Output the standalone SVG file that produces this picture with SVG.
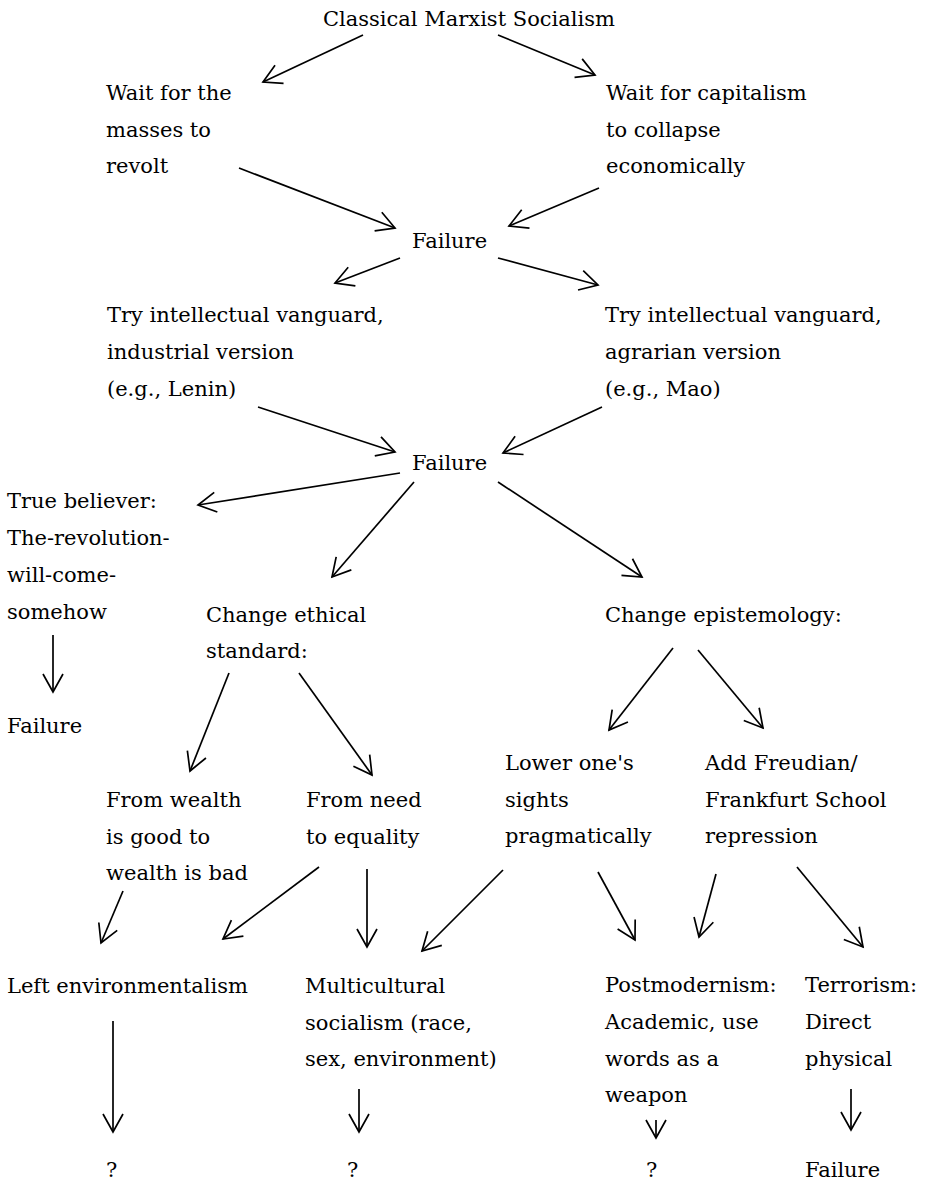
<svg xmlns="http://www.w3.org/2000/svg" width="928" height="1183" viewBox="0 0 928 1183">
<style>
text{font-family:"DejaVu Serif","Liberation Serif",serif;font-size:21px;fill:#000}
.c line{stroke:#000;stroke-width:1.7;fill:none;marker-end:url(#ah)}
</style>
<defs>
<marker id="ah" markerUnits="userSpaceOnUse" orient="auto" refX="0" refY="0" overflow="visible">
<path d="M-18,-10 L0,0 L-18,10" fill="none" stroke="#000" stroke-width="1.7"/>
</marker>
</defs>
<rect width="928" height="1183" fill="#fff"/>
<g id="n-classical"><text x="323" y="26">Classical Marxist Socialism</text></g>
<g id="n-masses"><text x="106" y="100">Wait for the</text><text x="106" y="136.5">masses to</text><text x="106" y="173">revolt</text></g>
<g id="n-capitalism"><text x="606" y="100">Wait for capitalism</text><text x="606" y="136.5">to collapse</text><text x="606" y="173">economically</text></g>
<g id="n-failure1"><text x="412" y="248">Failure</text></g>
<g id="n-lenin"><text x="107" y="322">Try intellectual vanguard,</text><text x="107" y="359">industrial version</text><text x="107" y="396">(e.g., Lenin)</text></g>
<g id="n-mao"><text x="605" y="322">Try intellectual vanguard,</text><text x="605" y="359">agrarian version</text><text x="605" y="396">(e.g., Mao)</text></g>
<g id="n-failure2"><text x="412" y="470">Failure</text></g>
<g id="n-truebeliever"><text x="7" y="508">True believer:</text><text x="7" y="545">The-revolution-</text><text x="7" y="582">will-come-</text><text x="7" y="619">somehow</text></g>
<g id="n-failure3"><text x="7" y="733">Failure</text></g>
<g id="n-ethical"><text x="206" y="622">Change ethical</text><text x="206" y="658">standard:</text></g>
<g id="n-epistemology"><text x="605" y="622">Change epistemology:</text></g>
<g id="n-wealth"><text x="106" y="807">From wealth</text><text x="106" y="843.5">is good to</text><text x="106" y="880">wealth is bad</text></g>
<g id="n-need"><text x="306" y="807">From need</text><text x="306" y="843.5">to equality</text></g>
<g id="n-lower"><text x="505" y="770">Lower one's</text><text x="505" y="806.5">sights</text><text x="505" y="843">pragmatically</text></g>
<g id="n-freudian"><text x="705" y="770">Add Freudian/</text><text x="705" y="806.5">Frankfurt School</text><text x="705" y="843">repression</text></g>
<g id="n-leftenv"><text x="7" y="993">Left environmentalism</text></g>
<g id="n-multicultural"><text x="305" y="993">Multicultural</text><text x="305" y="1029.5">socialism (race,</text><text x="305" y="1066">sex, environment)</text></g>
<g id="n-postmodernism"><text x="605" y="992">Postmodernism:</text><text x="605" y="1029">Academic, use</text><text x="605" y="1066">words as a</text><text x="605" y="1102">weapon</text></g>
<g id="n-terrorism"><text x="805" y="992">Terrorism:</text><text x="805" y="1029">Direct</text><text x="805" y="1066">physical</text></g>
<g id="n-q1"><text x="106" y="1177">?</text></g>
<g id="n-q2"><text x="347" y="1177">?</text></g>
<g id="n-q3"><text x="646" y="1177">?</text></g>
<g id="n-failure4"><text x="805" y="1177">Failure</text></g>
<g id="connectors" class="c">
<line x1="363" y1="35" x2="263" y2="82"/>
<line x1="498" y1="35" x2="595" y2="75"/>
<line x1="239" y1="168" x2="395" y2="228"/>
<line x1="599" y1="188" x2="509" y2="226"/>
<line x1="400" y1="258" x2="335" y2="283"/>
<line x1="498" y1="258" x2="598" y2="285"/>
<line x1="258" y1="407" x2="395" y2="452"/>
<line x1="602" y1="407" x2="503" y2="453"/>
<line x1="400" y1="473" x2="198" y2="505"/>
<line x1="414" y1="482" x2="332" y2="577"/>
<line x1="498" y1="482" x2="642" y2="577"/>
<line x1="53" y1="635" x2="53" y2="692"/>
<line x1="229" y1="673" x2="190" y2="771"/>
<line x1="299" y1="673" x2="372" y2="775"/>
<line x1="673" y1="648" x2="609" y2="730"/>
<line x1="698" y1="650" x2="763" y2="728"/>
<line x1="123" y1="891" x2="101" y2="943"/>
<line x1="319" y1="867" x2="223" y2="939"/>
<line x1="367" y1="869" x2="367" y2="947"/>
<line x1="503" y1="870" x2="422" y2="951"/>
<line x1="598" y1="872" x2="635" y2="940"/>
<line x1="716" y1="874" x2="699" y2="937"/>
<line x1="797" y1="867" x2="863" y2="947"/>
<line x1="113" y1="1021" x2="113" y2="1132"/>
<line x1="359" y1="1089" x2="359" y2="1132"/>
<line x1="656" y1="1120" x2="656" y2="1138"/>
<line x1="851" y1="1089" x2="851" y2="1130"/>
</g>
</svg>
